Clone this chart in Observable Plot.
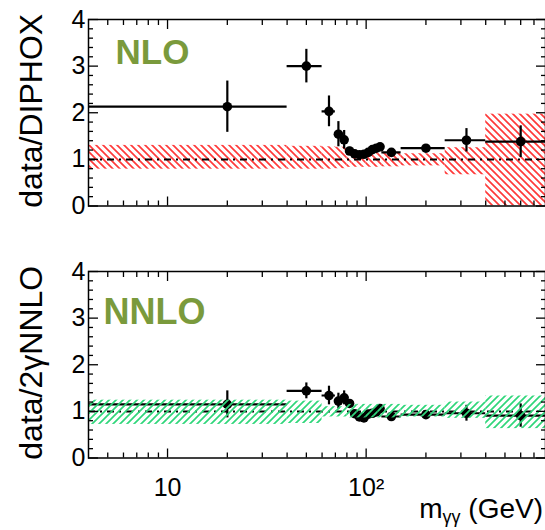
<!DOCTYPE html>
<html><head><meta charset="utf-8">
<script src="https://cdn.jsdelivr.net/npm/d3@7"></script>
<script src="https://cdn.jsdelivr.net/npm/@observablehq/plot@0.6"></script>
<style>
body{margin:0;background:#fff;}
#wrap{position:relative;width:545px;height:530px;overflow:hidden;background:#fff;}
#wrap svg{position:absolute;left:0;}
</style></head><body><div id="wrap"></div>
<script>
// bins in m_yy (GeV)
const binLo = [0, 40, 60, 70, 75, 80, 85, 90, 95, 100, 105, 110, 115, 120, 150, 250, 400];
const binHi = [40, 60, 70, 75, 80, 85, 90, 95, 100, 105, 110, 115, 120, 150, 250, 400, 800];
const mass  = [20, 50, 65, 72.5, 77.5, 82.5, 87.5, 92.5, 97.5, 102.5, 107.5, 112.5, 117.5, 134, 200, 320, 600];
// data / DIPHOX (NLO)
const ratioNLO = [2.13, 3.00, 2.03, 1.54, 1.42, 1.18, 1.12, 1.10, 1.11, 1.15, 1.21, 1.24, 1.27, 1.15, 1.24, 1.41, 1.38];
const errNLO   = [0.55, 0.36, 0.33, 0.27, 0.20, 0.08, 0.06, 0.06, 0.06, 0.06, 0.06, 0.06, 0.06, 0.06, 0.07, 0.25, 0.34];
const bandNLOLo = [0.79, 0.79, 0.79, 0.80, 0.80, 0.83, 0.83, 0.83, 0.83, 0.83, 0.83, 0.83, 0.83, 0.84, 0.86, 0.67, 0.00];
const bandNLOHi = [1.30, 1.28, 1.27, 1.26, 1.26, 1.17, 1.17, 1.17, 1.17, 1.17, 1.17, 1.17, 1.17, 1.15, 1.12, 1.25, 1.97];
// data / 2gNNLO (NNLO)
const ratioNNLO = [1.15, 1.44, 1.34, 1.22, 1.29, 1.17, 0.95, 0.88, 0.86, 0.94, 0.96, 0.99, 1.06, 0.89, 0.93, 0.96, 0.91];
const errNNLO   = [0.29, 0.17, 0.20, 0.17, 0.15, 0.06, 0.05, 0.04, 0.04, 0.04, 0.04, 0.04, 0.04, 0.04, 0.04, 0.17, 0.25];
const bandNNLOLo = [0.72, 0.74, 0.88, 0.88, 0.88, 0.86, 0.86, 0.86, 0.86, 0.86, 0.86, 0.86, 0.86, 0.86, 0.88, 0.85, 0.63];
const bandNNLOHi = [1.24, 1.22, 1.10, 1.10, 1.10, 1.15, 1.15, 1.15, 1.15, 1.15, 1.15, 1.15, 1.15, 1.15, 1.13, 1.20, 1.33];
// axes
const xDomain = [4, 800];
const yDomain = [0, 4];
const xMajor = [10, 100];
const xMinor = [5, 6, 7, 8, 9, 20, 30, 40, 50, 60, 70, 80, 90, 200, 300, 400, 500, 600, 700];
const xTickLabels = ["10", "10²"];
const yMajor = [0, 1, 2, 3, 4];
const yMinor = [0.2,0.4,0.6,0.8,1.2,1.4,1.6,1.8,2.2,2.4,2.6,2.8,3.2,3.4,3.6,3.8];
const yTickLabels = ["0", "1", "2", "3", "4"];

const FONT = "'Liberation Sans', Arial, Helvetica, sans-serif";
const TAGCOLOR = "#7a9a3c";

function frameMarks(showXLabels) {
  const m = [
    Plot.frame({stroke: "black", strokeWidth: 1.5}),
    Plot.axisX(xMajor, {anchor: "bottom", tickSize: -9, tickFormat: () => "", strokeWidth: 1.3, label: null}),
    Plot.axisX(xMinor, {anchor: "bottom", tickSize: -5, tickFormat: () => "", strokeWidth: 1.3, label: null}),
    Plot.axisX(xMajor, {anchor: "top", tickSize: -9, tickFormat: () => "", strokeWidth: 1.3, label: null}),
    Plot.axisX(xMinor, {anchor: "top", tickSize: -5, tickFormat: () => "", strokeWidth: 1.3, label: null}),
    Plot.axisY(yMajor, {anchor: "left", tickSize: -10, tickFormat: () => "", strokeWidth: 1.3, label: null}),
    Plot.axisY(yMinor, {anchor: "left", tickSize: -5, tickFormat: () => "", strokeWidth: 1.3, label: null}),
    Plot.axisY(yMajor, {anchor: "right", tickSize: -10, tickFormat: () => "", strokeWidth: 1.3, label: null}),
    Plot.axisY(yMinor, {anchor: "right", tickSize: -5, tickFormat: () => "", strokeWidth: 1.3, label: null}),
    Plot.text(yMajor, {y: d => d, text: (d, i) => yTickLabels[i], frameAnchor: "left", dx: -3, textAnchor: "end", lineAnchor: "middle", fontSize: 25, fill: "black"})
  ];
  if (showXLabels) {
    m.push(Plot.text(xMajor, {x: d => d, text: (d, i) => xTickLabels[i], frameAnchor: "bottom", dy: 30, textAnchor: "middle", lineAnchor: "middle", fontSize: 25, fill: "black"}));
  }
  return m;
}

function panel(o) {
  const idx = d3.range(mass.length);
  const lo = i => Math.max(binLo[i], xDomain[0]);
  const band = Plot.rect(idx, {x1: lo, x2: i => binHi[i], y1: i => o.bandLo[i], y2: i => o.bandHi[i], fill: `url(#${o.hatch})`, clip: true});
  const data = [
    Plot.ruleY(idx, {y: i => o.ratio[i], x1: lo, x2: i => binHi[i], stroke: "black", strokeWidth: 2.2, clip: true}),
    Plot.ruleX(idx, {x: i => mass[i], y1: i => o.ratio[i] - o.err[i], y2: i => o.ratio[i] + o.err[i], stroke: "black", strokeWidth: 2.2}),
    Plot.dot(idx, {x: i => mass[i], y: i => o.ratio[i], r: 4.8, fill: "black", stroke: "none"})
  ];
  const unity = Plot.ruleY([1], {stroke: "black", strokeWidth: 2, strokeDasharray: "7,5,2,5"});
  const marks = o.bandOnTop ? [unity, ...data, band] : [band, unity, ...data];
  const svg = Plot.plot({
    width: 545, height: o.height,
    marginTop: o.mt, marginBottom: o.mb, marginLeft: 88, marginRight: 0,
    x: {type: "log", domain: xDomain},
    y: {domain: yDomain},
    style: {fontFamily: FONT, background: "transparent", overflow: "visible"},
    marks: [
      ...marks,
      ...frameMarks(o.showXLabels),
      Plot.text([o.ylabel], {frameAnchor: "left", rotate: -90, dx: -47, dy: -2, textAnchor: "middle", lineAnchor: "bottom", fontSize: 32, fill: "black"}),
      Plot.text([o.tag], {frameAnchor: "top-left", dx: o.tagDx, dy: o.tagDy, textAnchor: "start", lineAnchor: "bottom", fontSize: o.tagSize, fontWeight: "bold", fill: TAGCOLOR})
    ]
  });
  const defs = d3.select(svg).insert("defs", ":first-child");
  const p = defs.append("pattern").attr("id", o.hatch).attr("patternUnits", "userSpaceOnUse").attr("width", 7).attr("height", 7);
  p.append("path")
    .attr("d", o.dir === "back" ? "M-1,-1L8,8M-1,6L1,8M6,-1L8,1" : "M-1,8L8,-1M-1,1L1,-1M6,8L8,6")
    .attr("stroke", o.color).attr("stroke-width", 1.7).attr("fill", "none");
  svg.style.top = o.top + "px";
  return svg;
}

const wrap = document.getElementById("wrap");
const s1 = panel({ratio: ratioNLO, err: errNLO, bandLo: bandNLOLo, bandHi: bandNLOHi, hatch: "hatchRed", dir: "back", color: "#ff3a3a",
  ylabel: "data/DIPHOX", tag: "NLO", tagDx: 27, tagDy: 44, tagSize: 35, height: 220, mt: 19, mb: 14.5, top: 0, bandOnTop: false, showXLabels: false});
const s2 = panel({ratio: ratioNNLO, err: errNNLO, bandLo: bandNNLOLo, bandHi: bandNNLOHi, hatch: "hatchGreen", dir: "fwd", color: "#2fd67a",
  ylabel: "data/2γNNLO", tag: "NNLO", tagDx: 15, tagDy: 52, tagSize: 36, height: 280, mt: 21, mb: 72.5, top: 250, bandOnTop: true, showXLabels: true});
wrap.appendChild(s1);
wrap.appendChild(s2);

// x-axis title with subscript
const t = d3.select(s2).append("text").attr("x", 543).attr("y", 268).attr("text-anchor", "end")
  .attr("font-family", FONT).attr("font-size", 28).attr("fill", "black");
t.append("tspan").text("m");
t.append("tspan").attr("font-size", 18).attr("dy", 5).text("γγ");
t.append("tspan").attr("dy", -5).text(" (GeV)");
</script></body></html>
